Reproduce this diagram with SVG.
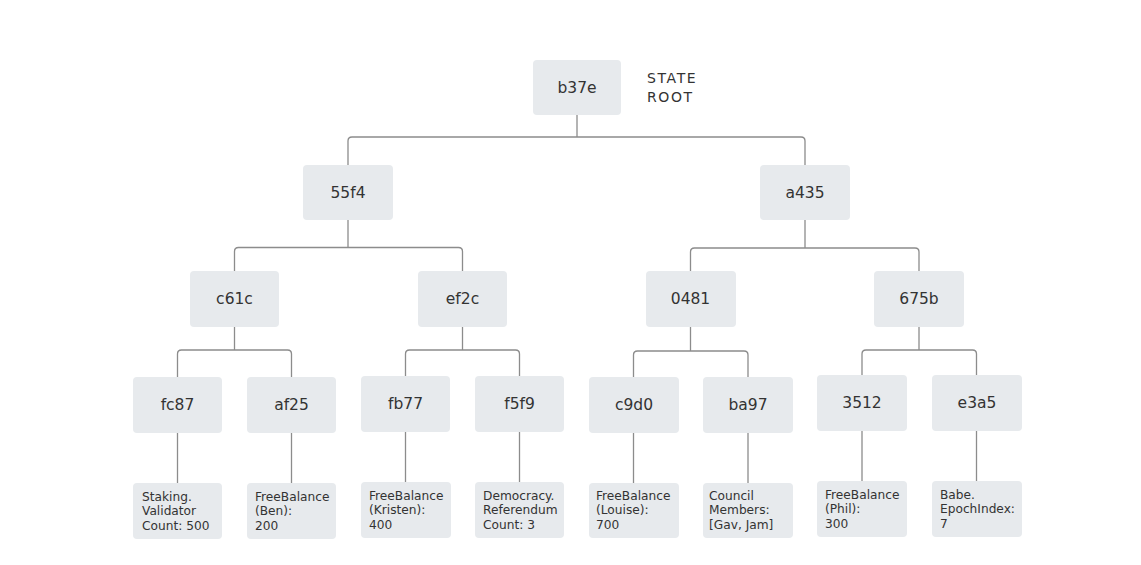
<svg xmlns="http://www.w3.org/2000/svg" width="1141" height="565" viewBox="0 0 1141 565">
<style>
.box{fill:#e7eaed;}
.lbl{font-family:"DejaVu Sans",sans-serif;font-size:15.5px;fill:#333;text-anchor:middle;}
.leaf{font-family:"DejaVu Sans",sans-serif;font-size:12.2px;fill:#333;}
.title{font-family:"DejaVu Sans",sans-serif;font-size:14px;fill:#333;letter-spacing:1.6px;}
.conn path{fill:none;stroke:#8c8c8c;stroke-width:1.3;}
</style>
<rect width="1141" height="565" fill="#fff"/>
<g class="conn" id="connectors">
<path d="M577,115 V137"/>
<path d="M348,165 V141 Q348,137 352,137 H801 Q805,137 805,141 V165"/>
<path d="M348,220 V247.5"/>
<path d="M234.5,271 V251.5 Q234.5,247.5 238.5,247.5 H458.5 Q462.5,247.5 462.5,251.5 V271"/>
<path d="M805,220 V248"/>
<path d="M690.5,271 V252 Q690.5,248 694.5,248 H915 Q919,248 919,252 V271"/>
<path d="M234.5,327 V350"/>
<path d="M177.5,377 V354 Q177.5,350 181.5,350 H287.5 Q291.5,350 291.5,354 V377"/>
<path d="M462.5,327 V350"/>
<path d="M405.5,376 V354 Q405.5,350 409.5,350 H515.5 Q519.5,350 519.5,354 V376"/>
<path d="M690.5,327 V351"/>
<path d="M633.5,377 V355 Q633.5,351 637.5,351 H744 Q748,351 748,355 V377"/>
<path d="M919,327 V350"/>
<path d="M862,375 V354 Q862,350 866,350 H972.5 Q976.5,350 976.5,354 V375"/>
<path d="M177.5,433 V483"/>
<path d="M291.5,433 V483"/>
<path d="M405.5,432 V482"/>
<path d="M519.5,432 V482"/>
<path d="M633.5,433 V483"/>
<path d="M748,433 V483"/>
<path d="M862,431 V481"/>
<path d="M976.5,431 V481"/>
</g>
<g id="n-b37e"><rect class="box" x="533" y="60" width="88" height="55" rx="4"/><text class="lbl" x="577" y="93">b37e</text></g>
<g id="state-root"><text class="title" x="647" y="83">STATE</text><text class="title" x="647" y="102">ROOT</text></g>
<g id="n-55f4"><rect class="box" x="303" y="165" width="90" height="55" rx="4"/><text class="lbl" x="348" y="198">55f4</text></g>
<g id="n-a435"><rect class="box" x="760" y="165" width="90" height="55" rx="4"/><text class="lbl" x="805" y="198">a435</text></g>
<g id="n-c61c"><rect class="box" x="190" y="271" width="89" height="56" rx="4"/><text class="lbl" x="234.5" y="304">c61c</text></g>
<g id="n-ef2c"><rect class="box" x="418" y="271" width="89" height="56" rx="4"/><text class="lbl" x="462.5" y="304">ef2c</text></g>
<g id="n-0481"><rect class="box" x="646" y="271" width="90" height="56" rx="4"/><text class="lbl" x="690.5" y="304">0481</text></g>
<g id="n-675b"><rect class="box" x="874" y="271" width="90" height="56" rx="4"/><text class="lbl" x="919" y="304">675b</text></g>
<g id="n-fc87"><rect class="box" x="133" y="377" width="89" height="56" rx="4"/><text class="lbl" x="177.5" y="410">fc87</text></g>
<g id="n-af25"><rect class="box" x="247" y="377" width="89" height="56" rx="4"/><text class="lbl" x="291.5" y="410">af25</text></g>
<g id="n-fb77"><rect class="box" x="361" y="376" width="89" height="56" rx="4"/><text class="lbl" x="405.5" y="409">fb77</text></g>
<g id="n-f5f9"><rect class="box" x="475" y="376" width="89" height="56" rx="4"/><text class="lbl" x="519.5" y="409">f5f9</text></g>
<g id="n-c9d0"><rect class="box" x="589" y="377" width="90" height="56" rx="4"/><text class="lbl" x="634" y="410">c9d0</text></g>
<g id="n-ba97"><rect class="box" x="703" y="377" width="90" height="56" rx="4"/><text class="lbl" x="748" y="410">ba97</text></g>
<g id="n-3512"><rect class="box" x="817" y="375" width="90" height="56" rx="4"/><text class="lbl" x="862" y="408">3512</text></g>
<g id="n-e3a5"><rect class="box" x="932" y="375" width="90" height="56" rx="4"/><text class="lbl" x="977" y="408">e3a5</text></g>
<g id="leaf-fc87"><rect class="box" x="133" y="483" width="89" height="56" rx="4"/><text class="leaf" x="142" y="501">Staking.<tspan x="142" dy="14">Validator</tspan><tspan x="142" dy="14.5">Count: 500</tspan></text></g>
<g id="leaf-af25"><rect class="box" x="247" y="483" width="89" height="56" rx="4"/><text class="leaf" x="255" y="501">FreeBalance<tspan x="255" dy="14">(Ben):</tspan><tspan x="255" dy="14.5">200</tspan></text></g>
<g id="leaf-fb77"><rect class="box" x="361" y="482" width="90" height="56" rx="4"/><text class="leaf" x="369" y="500">FreeBalance<tspan x="369" dy="14">(Kristen):</tspan><tspan x="369" dy="14.5">400</tspan></text></g>
<g id="leaf-f5f9"><rect class="box" x="475" y="482" width="89" height="56" rx="4"/><text class="leaf" x="483" y="500">Democracy.<tspan x="483" dy="14">Referendum</tspan><tspan x="483" dy="14.5">Count: 3</tspan></text></g>
<g id="leaf-c9d0"><rect class="box" x="589" y="483" width="90" height="55" rx="4"/><text class="leaf" x="596" y="500">FreeBalance<tspan x="596" dy="14">(Louise):</tspan><tspan x="596" dy="14.5">700</tspan></text></g>
<g id="leaf-ba97"><rect class="box" x="703" y="483" width="90" height="55" rx="4"/><text class="leaf" x="709" y="500">Council<tspan x="709" dy="14">Members:</tspan><tspan x="709" dy="14.5">[Gav, Jam]</tspan></text></g>
<g id="leaf-3512"><rect class="box" x="817" y="481" width="90" height="56" rx="4"/><text class="leaf" x="825" y="499">FreeBalance<tspan x="825" dy="14">(Phil):</tspan><tspan x="825" dy="14.5">300</tspan></text></g>
<g id="leaf-e3a5"><rect class="box" x="932" y="481" width="90" height="56" rx="4"/><text class="leaf" x="940" y="499">Babe.<tspan x="940" dy="14">EpochIndex:</tspan><tspan x="940" dy="14.5">7</tspan></text></g>
</svg>
